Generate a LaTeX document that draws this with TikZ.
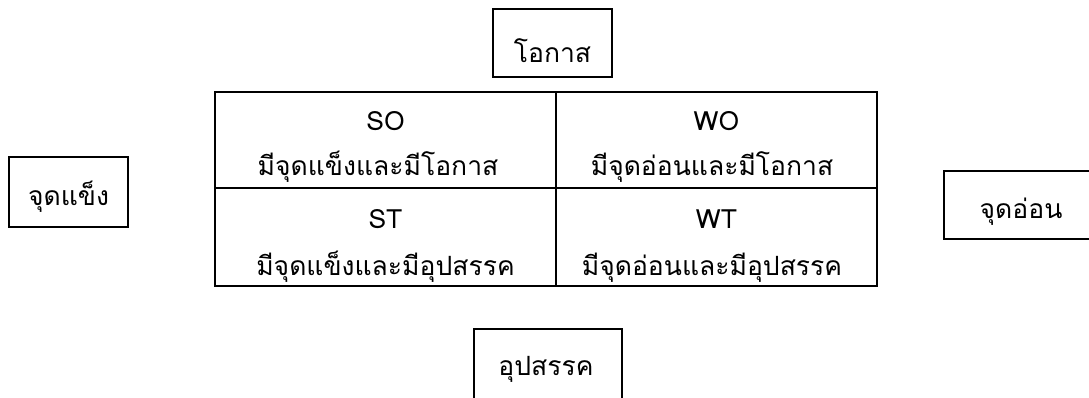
\documentclass[tikz,border=0pt]{standalone}
\usepackage{fontspec}
\setmainfont[Script=Thai]{Loma}
\begin{document}
\begin{tikzpicture}[x=1pt,y=-1pt,
  lbl/.style={anchor=base,inner sep=0pt,font=\fontsize{26.5}{30}\selectfont},
  boxline/.style={draw=black,line width=1.5pt},
  tabline/.style={draw=black,line width=2pt}]
\useasboundingbox (0,0) rectangle (1089,397);
% outer labelled boxes
\draw[boxline] (493,9) rectangle (612,77);
\node[lbl] (opp) at (552.5,62) {โอกาส};
\draw[boxline] (9,157) rectangle (128,227);
\node[lbl] (str) at (68.5,205) {จุดแข็ง};
\draw[boxline] (944,171) rectangle (1100,239);
\node[lbl] (wea) at (1021,218) {จุดอ่อน};
\draw[boxline] (474,329) rectangle (622,410);
\node[lbl] (thr) at (546,375) {อุปสรรค};
% table
\node[tabline,minimum width=341pt,minimum height=96pt,inner sep=0pt] (so) at (385.5,140) {};
\node[tabline,minimum width=321pt,minimum height=96pt,inner sep=0pt] (wo) at (716.5,140) {};
\node[tabline,minimum width=341pt,minimum height=98pt,inner sep=0pt] (st) at (385.5,237) {};
\node[tabline,minimum width=321pt,minimum height=98pt,inner sep=0pt] (wt) at (716.5,237) {};
\node[lbl] (so1) at (385.5,130) {SO};
\node[lbl] (so2) at (378,175) {มีจุดแข็งและมีโอกาส};
\node[lbl] (wo1) at (716.5,130) {WO};
\node[lbl] (wo2) at (712,175) {มีจุดอ่อนและมีโอกาส};
\node[lbl] (st1) at (385.5,228) {ST};
\node[lbl] (st2) at (385.5,275) {มีจุดแข็งและมีอุปสรรค};
\node[lbl] (wt1) at (716.5,228) {WT};
\node[lbl] (wt2) at (712,275) {มีจุดอ่อนและมีอุปสรรค};
\end{tikzpicture}
\end{document}
